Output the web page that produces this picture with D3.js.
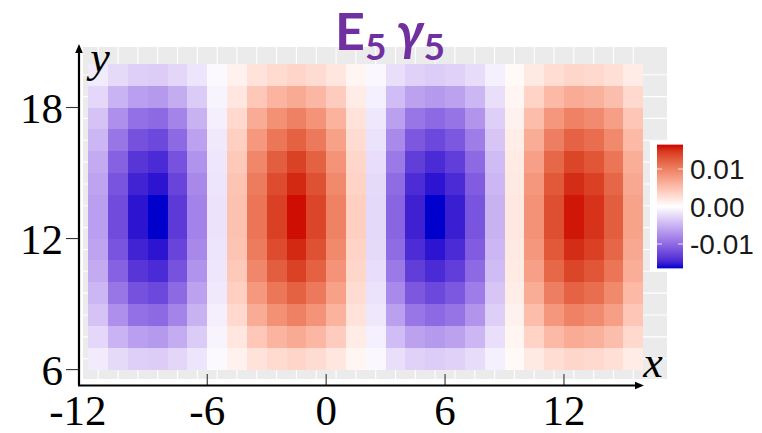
<!DOCTYPE html>
<html>
<head>
<meta charset="utf-8">
<script src="https://cdn.jsdelivr.net/npm/d3@7"></script>
<style>
  body { margin: 0; background: #fff; overflow: hidden; }
</style>
</head>
<body>
<script>
// tiles are one unit wide: left edge in x, bottom edge in y
const xTiles = [-12, -11, -10, -9, -8, -7, -6, -5, -4, -3, -2, -1, 0, 1, 2, 3, 4, 5, 6, 7, 8, 9, 10, 11, 12, 13, 14, 15];
const yTiles = [6, 7, 8, 9, 10, 11, 12, 13, 14, 15, 16, 17, 18, 19];

// field values in units of 1e-4, one row per y tile, bottom row first
const zUnit = 1e-4;
const zRows = [
    [-13, -24, -31, -33, -27, -17, -4, 10, 22, 29, 33, 28, 20, 7, -5, -21, -30, -33, -30, -23, -10, 4, 17, 27, 32, 30, 25, 15],
    [-26, -50, -64, -68, -55, -34, -7, 20, 44, 59, 67, 57, 40, 15, -10, -43, -62, -68, -62, -48, -21, 7, 35, 55, 66, 62, 51, 30],
    [-39, -74, -96, -101, -82, -51, -11, 30, 66, 87, 99, 85, 60, 23, -15, -63, -92, -101, -93, -71, -31, 11, 52, 82, 98, 92, 76, 45],
    [-48, -92, -118, -124, -101, -62, -14, 37, 81, 107, 122, 105, 74, 28, -19, -78, -113, -124, -114, -87, -38, 14, 65, 101, 121, 113, 93, 55],
    [-56, -106, -137, -144, -117, -72, -16, 43, 94, 124, 142, 122, 85, 32, -22, -90, -131, -144, -132, -101, -44, 16, 75, 117, 140, 130, 108, 64],
    [-61, -116, -149, -157, -127, -79, -17, 47, 103, 136, 155, 133, 93, 35, -24, -99, -143, -157, -144, -110, -48, 17, 82, 128, 153, 143, 118, 69],
    [-64, -122, -157, -165, -134, -83, -18, 49, 108, 143, 163, 140, 98, 37, -25, -104, -150, -165, -152, -116, -51, 18, 86, 135, 161, 150, 124, 73],
    [-64, -122, -157, -165, -134, -83, -18, 49, 108, 143, 163, 140, 98, 37, -25, -104, -150, -165, -152, -116, -51, 18, 86, 135, 161, 150, 124, 73],
    [-61, -116, -149, -157, -127, -79, -17, 47, 103, 136, 155, 133, 93, 35, -24, -99, -143, -157, -144, -110, -48, 17, 82, 128, 153, 143, 118, 69],
    [-56, -106, -137, -144, -117, -72, -16, 43, 94, 124, 142, 122, 85, 32, -22, -90, -131, -144, -132, -101, -44, 16, 75, 117, 140, 130, 108, 64],
    [-48, -92, -118, -124, -101, -62, -14, 37, 81, 107, 122, 105, 74, 28, -19, -78, -113, -124, -114, -87, -38, 14, 65, 101, 121, 113, 93, 55],
    [-39, -74, -96, -101, -82, -51, -11, 30, 66, 87, 99, 85, 60, 23, -15, -63, -92, -101, -93, -71, -31, 11, 52, 82, 98, 92, 76, 45],
    [-26, -50, -64, -68, -55, -34, -7, 20, 44, 59, 67, 57, 40, 15, -10, -43, -62, -68, -62, -48, -21, 7, 35, 55, 66, 62, 51, 30],
    [-13, -24, -31, -33, -27, -17, -4, 10, 22, 29, 33, 28, 20, 7, -5, -21, -30, -33, -30, -23, -10, 4, 17, 27, 32, 30, 25, 15]
];

const xTicks = [-12, -6, 0, 6, 12];
const yTicks = [6, 12, 18];
const legendTicks = [-0.01, 0, 0.01];
const legendLabels = ["-0.01", "0.00", "0.01"];

const W = 762, H = 433;
const serif = "'Liberation Serif', 'DejaVu Serif', serif";
const sans = "'Liberation Sans', Arial, sans-serif";

// flatten grid into cells
const cells = [];
yTiles.forEach(function(yv, j) {
    xTiles.forEach(function(xv, i) {
        cells.push({ x: xv, y: yv, z: zRows[j][i] * zUnit });
    });
});
const zMax = d3.max(cells, d => Math.abs(d.z));

const x = d3.scaleLinear().domain([-12.27, 17.2]).range([83, 667]);
const y = d3.scaleLinear().domain([5.57, 20.77]).range([379, 47]);

const color = d3.scaleDiverging()
    .domain([-zMax, 0, zMax])
    .interpolator(d3.piecewise(d3.interpolateLab, ["#0000CD", "#FFFFFF", "#CD0000"]));

const svg = d3.select("body").append("svg")
    .attr("width", W).attr("height", H)
    .style("background", "#fff");

// grey panel with white grid lines through tile centres
function makePanel() {
    svg.append("rect")
        .attr("x", x.range()[0]).attr("y", y.range()[1])
        .attr("width", x.range()[1] - x.range()[0])
        .attr("height", y.range()[0] - y.range()[1])
        .attr("fill", "#EBEBEB");

    svg.append("g").selectAll("line")
        .data(xTiles).enter().append("line")
        .attr("x1", d => x(d + 0.5)).attr("x2", d => x(d + 0.5))
        .attr("y1", y.range()[1]).attr("y2", y.range()[0])
        .attr("stroke", "#fff").attr("stroke-width", 1.1);

    svg.append("g").selectAll("line")
        .data(yTiles).enter().append("line")
        .attr("y1", d => y(d + 0.5)).attr("y2", d => y(d + 0.5))
        .attr("x1", x.range()[0]).attr("x2", x.range()[1])
        .attr("stroke", "#fff").attr("stroke-width", 1.1);
}

function makeTiles() {
    svg.append("g").attr("shape-rendering", "crispEdges")
        .selectAll("rect")
        .data(cells).enter().append("rect")
        .attr("x", d => x(d.x))
        .attr("y", d => y(d.y + 1))
        .attr("width", d => x(d.x + 1) - x(d.x))
        .attr("height", d => y(d.y) - y(d.y + 1))
        .attr("fill", d => color(d.z));
}

function makeAxes() {
    const ax = 79, ay = 385.5;

    // y axis ticks point outwards
    svg.append("g").selectAll("line")
        .data(yTicks).enter().append("line")
        .attr("x1", 66).attr("x2", ax)
        .attr("y1", d => y(d)).attr("y2", d => y(d))
        .attr("stroke", "#333").attr("stroke-width", 1.1);

    svg.append("g").selectAll("text")
        .data(yTicks).enter().append("text")
        .attr("x", 63).attr("y", d => y(d) + 15.5)
        .attr("text-anchor", "end")
        .attr("font-family", serif).attr("font-size", 43)
        .text(d => d);

    // x ticks point up into the panel (none at the corner)
    svg.append("g").selectAll("line")
        .data(xTicks.slice(1)).enter().append("line")
        .attr("x1", d => x(d)).attr("x2", d => x(d))
        .attr("y1", 374).attr("y2", ay)
        .attr("stroke", "#333").attr("stroke-width", 1.1);

    svg.append("g").selectAll("text")
        .data(xTicks).enter().append("text")
        .attr("x", (d, i) => i == 0 ? x(d) - 10.5 : x(d))
        .attr("y", 425)
        .attr("text-anchor", "middle")
        .attr("font-family", serif).attr("font-size", 43)
        .text(d => d);

    // axis lines with arrow heads
    svg.append("path")
        .attr("d", `M${ax},${ay} V52 M${ax - 1},${ay} H636`)
        .attr("stroke", "#000").attr("stroke-width", 2.2).attr("fill", "none");
    svg.append("path")
        .attr("d", `M${ax},44 L${ax - 3.8},53 L${ax + 3.8},53 Z M644,${ay} L635,${ay - 3.8} L635,${ay + 3.8} Z`)
        .attr("fill", "#000");

    svg.append("text")
        .attr("x", 653).attr("y", 377)
        .attr("text-anchor", "middle")
        .attr("font-family", serif).attr("font-size", 44).attr("font-style", "italic")
        .text("x");
    svg.append("text")
        .attr("x", 100).attr("y", 72)
        .attr("text-anchor", "middle")
        .attr("font-family", serif).attr("font-size", 44).attr("font-style", "italic")
        .text("y");
}

function makeLegend() {
    const bx = 657, bw = 26;
    const zero = 206.5, k = 3750; // px per unit of z
    const ly = d3.scaleLinear().domain([-zMax, zMax]).range([zero + zMax * k, zero - zMax * k]);

    svg.append("rect")
        .attr("x", 650).attr("y", 141).attr("width", W - 650).attr("height", 131)
        .attr("fill", "#fff");

    const grad = svg.append("defs").append("linearGradient")
        .attr("id", "zgrad")
        .attr("x1", 0).attr("y1", 1).attr("x2", 0).attr("y2", 0);
    grad.selectAll("stop")
        .data(d3.range(0, 1.0001, 0.05)).enter().append("stop")
        .attr("offset", d => d)
        .attr("stop-color", d => color(-zMax + d * 2 * zMax));

    svg.append("rect")
        .attr("x", bx).attr("y", ly(zMax))
        .attr("width", bw).attr("height", ly(-zMax) - ly(zMax))
        .attr("fill", "url(#zgrad)");

    svg.append("g").selectAll("path")
        .data(legendTicks).enter().append("path")
        .attr("d", d => `M${bx},${ly(d)} h5 M${bx + bw - 5},${ly(d)} h5`)
        .attr("stroke", "#fff").attr("stroke-opacity", 0.8).attr("stroke-width", 1);

    svg.append("g").selectAll("text")
        .data(legendTicks).enter().append("text")
        .attr("x", 690).attr("y", d => ly(d) + 10)
        .attr("font-family", sans).attr("font-size", 28)
        .attr("fill", "#1a1a1a")
        .text((d, i) => legendLabels[i]);
}

function makeTitle() {
    const t = svg.append("text")
        .attr("x", 390).attr("y", 50)
        .attr("text-anchor", "middle")
        .attr("font-family", "Lato, 'Open Sans', sans-serif")
        .attr("font-weight", 700).attr("font-size", 52)
        .attr("fill", "#7030A0");
    t.append("tspan").text("E");
    t.append("tspan").attr("font-size", 37).attr("dy", 10).text("5");
    t.append("tspan").attr("font-style", "italic").attr("dy", -10).attr("dx", 10).text("\u03B3");
    t.append("tspan").attr("font-size", 37).attr("dy", 10).text("5");
}

makePanel();
makeTiles();
makeLegend();
makeAxes();
makeTitle();
</script>
</body>
</html>
